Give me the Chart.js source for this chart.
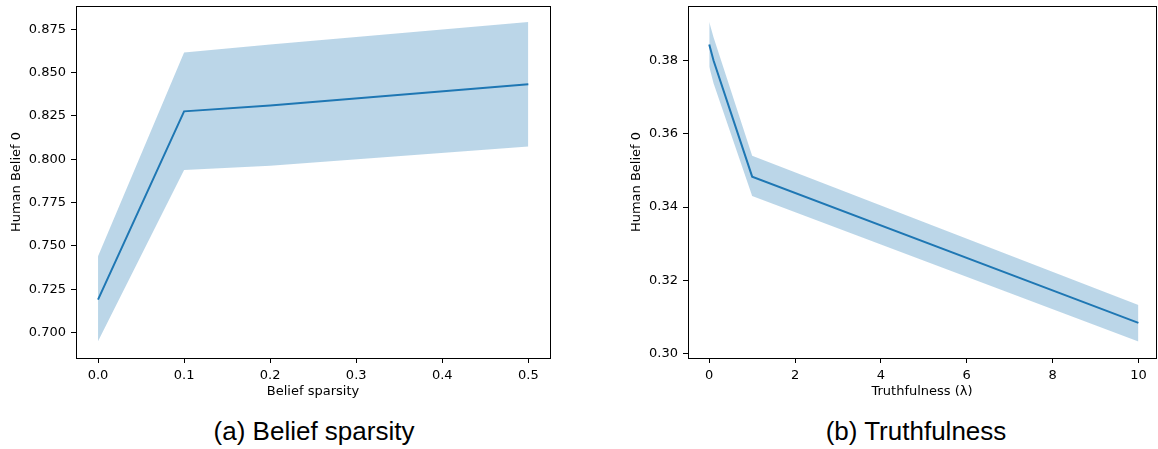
<!DOCTYPE html>
<html>
<head>
<meta charset="utf-8">
<script src="https://cdn.jsdelivr.net/npm/chart.js@4/dist/chart.umd.min.js"></script>
<style>
  body { margin: 0; background: #fff; }
  #wrap { position: relative; width: 1158px; height: 449px; overflow: hidden; }
  .panel { position: absolute; top: 0; }
  .caption {
    position: absolute; top: 418px; width: 400px; text-align: center;
    font-family: "Liberation Sans", Arial, sans-serif; font-size: 26px; line-height: 26px; color: #000;
  }
</style>
</head>
<body>
<div id="wrap">
  <div class="panel" style="left:0px"><canvas id="sparsityChart" width="560" height="400"></canvas></div>
  <div class="panel" style="left:600px"><canvas id="truthChart" width="558" height="400"></canvas></div>
  <div class="caption" style="left:114px">(a) Belief sparsity</div>
  <div class="caption" style="left:716px">(b) Truthfulness</div>
</div>
<script>
// Panel (a): belief sparsity
const sparsityX = [0.0, 0.1, 0.2, 0.5];
const sparsityMean = [0.719, 0.8276, 0.831, 0.8433];
const sparsityLow = [0.695, 0.7938, 0.7962, 0.8073];
const sparsityHigh = [0.744, 0.8616, 0.8662, 0.8792];
const sparsityXTicks = [0.0, 0.1, 0.2, 0.3, 0.4, 0.5];
const sparsityYTicks = [0.700, 0.725, 0.750, 0.775, 0.800, 0.825, 0.850, 0.875];

// Panel (b): truthfulness
const truthX = [0, 0.1, 1, 10];
const truthMean = [0.3844, 0.3800, 0.3483, 0.3084];
const truthLow = [0.3783, 0.3738, 0.3430, 0.3033];
const truthHigh = [0.3905, 0.3864, 0.3540, 0.3133];
const truthXTicks = [0, 2, 4, 6, 8, 10];
const truthYTicks = [0.30, 0.32, 0.34, 0.36, 0.38];

const lineColor = "#1f77b4";
const bandColor = "rgba(31, 119, 180, 0.3)";
const tickFont = { family: "'DejaVu Sans', sans-serif", size: 13 };

const toPoints = (xs, ys) => xs.map((x, i) => ({ x: x, y: ys[i] }));

// matplotlib-like box round the plot area
const boxPlugin = {
    id: "box",
    afterDraw(chart) {
        const { ctx, chartArea: a } = chart;
        ctx.save();
        ctx.strokeStyle = "#000";
        ctx.lineWidth = 1;
        ctx.strokeRect(Math.round(a.left) + 0.5, Math.round(a.top) + 0.5,
            Math.round(a.right - a.left), Math.round(a.bottom - a.top));
        ctx.restore();
    }
};

function makeChart(id, cfg) {
    const ctx = document.getElementById(id).getContext("2d");
    return new Chart(ctx, {
        type: "line",
        data: {
            datasets: [
                {
                    data: toPoints(cfg.x, cfg.low),
                    borderWidth: 0,
                    borderColor: "rgba(0,0,0,0)",
                    pointRadius: 0,
                    fill: false,
                },
                {
                    data: toPoints(cfg.x, cfg.high),
                    borderWidth: 0,
                    borderColor: "rgba(0,0,0,0)",
                    backgroundColor: bandColor,
                    pointRadius: 0,
                    fill: "-1", // band between low and high
                },
                {
                    data: toPoints(cfg.x, cfg.mean),
                    borderColor: lineColor,
                    borderWidth: 2,
                    pointRadius: 0,
                    fill: false,
                },
            ],
        },
        options: {
            responsive: false,
            animation: false,
            layout: { padding: { left: 0, top: 6, right: cfg.padRight, bottom: 0 } },
            plugins: { legend: { display: false }, tooltip: { enabled: false } },
            scales: {
                x: {
                    type: "linear",
                    min: cfg.xMin,
                    max: cfg.xMax,
                    afterBuildTicks: (s) => { s.ticks = cfg.xTicks.map(v => ({ value: v })); },
                    afterFit: (s) => { s.height = 42; s.paddingLeft = 0; s.paddingRight = 0; },
                    ticks: {
                        color: "#000",
                        font: tickFont,
                        padding: 5,
                        maxRotation: 0,
                        callback: cfg.xFormat,
                    },
                    grid: { drawOnChartArea: false, drawTicks: true, tickLength: 5, tickColor: "#000" },
                    border: { display: false },
                    title: {
                        display: true,
                        text: cfg.xTitle,
                        color: "#000",
                        font: tickFont,
                        padding: { top: 0, bottom: 1 },
                    },
                },
                y: {
                    type: "linear",
                    min: cfg.yMin,
                    max: cfg.yMax,
                    afterBuildTicks: (s) => { s.ticks = cfg.yTicks.map(v => ({ value: v })); },
                    afterFit: (s) => { s.width = cfg.yWidth; s.paddingTop = 0; s.paddingBottom = 0; },
                    ticks: {
                        color: "#000",
                        font: tickFont,
                        padding: 5,
                        callback: cfg.yFormat,
                    },
                    grid: { drawOnChartArea: false, drawTicks: true, tickLength: 5, tickColor: "#000" },
                    border: { display: false },
                    title: {
                        display: true,
                        text: "Human Belief 0",
                        color: "#000",
                        font: tickFont,
                        padding: { top: cfg.yTitlePad, bottom: 0 },
                    },
                },
            },
        },
        plugins: [boxPlugin],
    });
}

makeChart("sparsityChart", {
    x: sparsityX, mean: sparsityMean, low: sparsityLow, high: sparsityHigh,
    xTicks: sparsityXTicks, yTicks: sparsityYTicks,
    xMin: -0.0256, xMax: 0.5252, yMin: 0.6853, yMax: 0.8884,
    xFormat: (v) => Number(v).toFixed(1),
    yFormat: (v) => Number(v).toFixed(3),
    xTitle: "Belief sparsity",
    yWidth: 76, yTitlePad: 9, padRight: 10,
});

makeChart("truthChart", {
    x: truthX, mean: truthMean, low: truthLow, high: truthHigh,
    xTicks: truthXTicks, yTicks: truthYTicks,
    xMin: -0.495, xMax: 10.41, yMin: 0.2988, yMax: 0.3949,
    xFormat: (v) => String(v),
    yFormat: (v) => Number(v).toFixed(2),
    xTitle: "Truthfulness (\u03bb)",
    yWidth: 88, yTitlePad: 29, padRight: 2,
});
</script>
</body>
</html>
